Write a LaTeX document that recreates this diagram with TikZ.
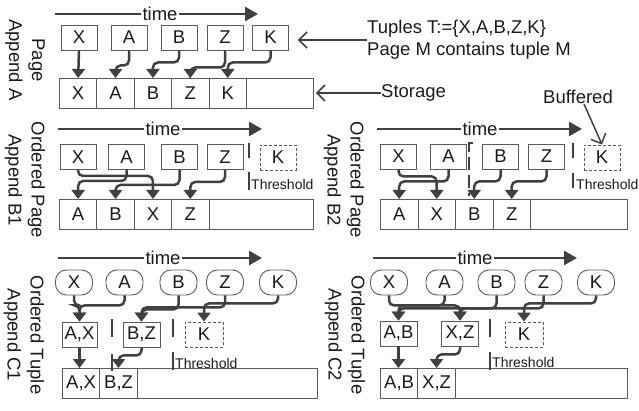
\documentclass[tikz,border=0pt]{standalone}
\usepackage{fontspec}
\setmainfont{Liberation Sans}
\usetikzlibrary{arrows.meta}
\definecolor{ln}{HTML}{404040}
\definecolor{bx}{HTML}{5A5A5A}
\definecolor{tx}{HTML}{1A1A1A}
\newcommand{\bigf}{\fontsize{18.5}{23}\selectfont}
\newcommand{\smallf}{\fontsize{14}{16}\selectfont}
\begin{document}
\begin{tikzpicture}[x=1pt,y=-1pt,
 pbox/.style={draw=bx,line width=0.9pt,minimum width=36pt,minimum height=25pt,inner sep=0pt,font=\bigf,text=tx},
 dbox/.style={pbox,dash pattern=on 3pt off 2pt},
 tup/.style={pbox,rounded corners=11pt,minimum width=37pt},
 cell/.style={draw=bx,line width=0.9pt,minimum width=37.4pt,minimum height=30pt,inner sep=0pt,anchor=north west,font=\bigf,text=tx},
 bar/.style={draw=bx,line width=0.9pt,anchor=north west,inner sep=0pt,minimum height=30pt},
 flow/.style={draw=ln,line width=2.5pt,rounded corners=5pt,-{Triangle[width=13pt,length=9pt]}},
 timeln/.style={draw=ln,line width=2.6pt,-{Triangle[width=14pt,length=13pt]}},
 timelbl/.style={fill=white,inner sep=1.5pt,font=\bigf,text=tx},
 thr/.style={draw=ln,line width=2pt},
 ptr/.style={draw=ln,line width=1.5pt,-{Straight Barb[length=8pt,width=16pt]}},
 lbl/.style={rotate=-90,align=center,font=\bigf,text=tx,inner sep=0pt},
 txt/.style={font=\bigf,text=tx,inner sep=0pt},
 thl/.style={font=\smallf,text=tx,inner sep=0pt,anchor=west},
]
\useasboundingbox (0,0) rectangle (639,411);

% ---------------- Panel A ----------------
\node[lbl] (lA) at (25,60) {Page\\Append A};
\coordinate (tA1) at (55,14); \coordinate (tA2) at (258,14);
\draw[timeln] (tA1) -- (tA2);
\node[timelbl] (tAl) at (160,14) {time};
\node[pbox] (Xa) at (79,37.5) {X};
\node[pbox] (Aa) at (129,37.5) {A};
\node[pbox] (Ba) at (179,37.5) {B};
\node[pbox] (Za) at (225,37.5) {Z};
\node[pbox] (Ka) at (270.5,37.5) {K};
\node[bar,minimum width=254pt] (barA) at (59,78) {};
\node[cell] (caX) at (59,78) {X};
\node[cell] (caA) at (96.4,78) {A};
\node[cell] (caB) at (133.8,78) {B};
\node[cell] (caZ) at (171.2,78) {Z};
\node[cell] (caK) at (208.6,78) {K};
\draw[flow] (Xa.south) -- (caX.north);
\draw[flow] (Aa.south) -- ++(0,15) -| (caA.north);
\draw[flow] (Ba.south) -- ++(0,12) -| (caB.north);
\draw[flow] (Za.south) -- ++(0,17) -| (caZ.north);
\draw[flow] (Ka.south) -- ++(0,12) -| (caK.north);
\node[txt,anchor=west,align=left,font=\fontsize{18.5}{22}\selectfont] (tupl) at (367,40) {Tuples T:=\{X,A,B,Z,K\}\\Page M contains tuple M};
\draw[ptr,shorten >=9pt] (tupl.west) -- (tupl.west -| Ka.east);
\node[txt,anchor=west] (stor) at (381,93) {Storage};
\draw[ptr,shorten >=2pt] (stor.west) -- (stor.west -| barA.east);

% ---------------- Panel B1 ----------------
\node[lbl] (lB1) at (25,180) {Ordered Page\\Append B1};
\coordinate (tB1a) at (58,129); \coordinate (tB1b) at (262,129);
\draw[timeln] (tB1a) -- (tB1b);
\node[timelbl] (tB1l) at (163,129) {time};
\node[pbox] (Xb) at (78,157) {X};
\node[pbox] (Ab) at (126.5,157) {A};
\node[pbox] (Bb) at (179.5,157) {B};
\node[pbox] (Zb) at (225,157) {Z};
\node[dbox] (Kb) at (278,157.5) {K};
\node[bar,minimum width=254pt] (barB1) at (59,199) {};
\node[cell] (cbA) at (59,199) {A};
\node[cell] (cbB) at (96.4,199) {B};
\node[cell] (cbX) at (133.8,199) {X};
\node[cell] (cbZ) at (171.2,199) {Z};
\draw[flow] (Xb.south) -- ++(0,6) -| (cbX.north);
\draw[flow] (Ab.south) -- ++(0,11) -| (cbA.north);
\draw[flow] (Bb.south) -- ++(0,15) -| (cbB.north);
\draw[flow] (Zb.south) -- ++(0,12) -| (cbZ.north);
\draw[thr] (249,143) -- (249,158);
\draw[thr] (249,172) -- (249,190);
\node[thl] (thB1) at (251,184) {Threshold};

% ---------------- Panel B2 ----------------
\node[lbl] (lB2) at (344,180) {Ordered Page\\Append B2};
\coordinate (tB2a) at (377,129); \coordinate (tB2b) at (582,129);
\draw[timeln] (tB2a) -- (tB2b);
\node[timelbl] (tB2l) at (480,129) {time};
\node[pbox] (Xc) at (398.5,156.5) {X};
\node[pbox] (Ac) at (448.5,156.5) {A};
\node[pbox] (Bc) at (500.5,156.5) {B};
\node[pbox] (Zc) at (546.5,156.5) {Z};
\node[dbox] (Kc) at (602,157.5) {K};
\node[bar,minimum width=247pt] (barB2) at (380,199) {};
\node[cell,minimum width=37.5pt] (c2A) at (380,199) {A};
\node[cell,minimum width=37.5pt] (c2X) at (417.5,199) {X};
\node[cell,minimum width=37.5pt] (c2B) at (455,199) {B};
\node[cell,minimum width=37.5pt] (c2Z) at (492.5,199) {Z};
\draw[flow] (Xc.south) -- ++(0,7) -| (c2X.north);
\draw[flow] (Ac.south) -- ++(0,12) -| (c2A.north);
\draw[flow] (Bc.south) -- ++(0,12) -| (c2B.north);
\draw[flow] (Zc.south) -- ++(0,12) -| (c2Z.north);
\draw[thr,dash pattern=on 13pt off 5pt] (473,143) -- (469,143) -- (469,196);
\draw[thr] (573,143) -- (573,158);
\draw[thr] (573,173) -- (573,188);
\node[thl] (thB2) at (576,184) {Threshold};
\node[txt] (buf) at (578,97) {Buffered};
\draw[ptr] ([xshift=6pt]buf.south) -- (Kc.north);

% ---------------- Panel C1 ----------------
\node[lbl] (lC1) at (24,335) {Ordered Tuple\\Append C1};
\coordinate (tC1a) at (58,258); \coordinate (tC1b) at (262,258);
\draw[timeln] (tC1a) -- (tC1b);
\node[timelbl] (tC1l) at (163,258) {time};
\node[tup] (Xd) at (74,282.5) {X};
\node[tup] (Ad) at (124.5,282.5) {A};
\node[tup] (Bd) at (178.5,282.5) {B};
\node[tup] (Zd) at (225,282.5) {Z};
\node[tup] (Kd) at (278,282.5) {K};
\node[pbox,minimum width=35pt] (AXd) at (79.5,334.5) {A,X};
\node[pbox,minimum width=37pt] (BZd) at (141.5,334.5) {B,Z};
\node[dbox,minimum width=38pt] (KKd) at (204,334.5) {K};
\node[bar,minimum width=255pt] (barC1) at (62,368) {};
\node[cell] (cdAX) at (62,368) {A,X};
\node[cell] (cdBZ) at (99.4,368) {B,Z};
\draw[flow] (Xd.south) -- ++(0,10) -| (AXd.north);
\draw[flow] (Ad.south) -- ++(0,10) -| (AXd.north);
\draw[flow] (Bd.south) -- ++(0,14) -| (BZd.north);
\draw[flow] (Zd.south) -- ++(0,12) -| (BZd.north);
\draw[flow] (Kd.south) -- ++(0,8) -| (KKd.north);
\draw[flow] (AXd.south) -- (AXd.south |- cdAX.north);
\draw[flow] (BZd.south) -- ++(0,8) -| (cdBZ.north);
\draw[thr] (112,319) -- (112,337);
\draw[thr] (112,354) -- (112,371);
\draw[thr] (173,319) -- (173,337);
\draw[thr] (173,352) -- (173,370);
\node[thl] (thC1) at (175,363) {Threshold};

% ---------------- Panel C2 ----------------
\node[lbl] (lC2) at (345,335) {Ordered Tuple\\Append C2};
\coordinate (tC2a) at (373,258); \coordinate (tC2b) at (577,258);
\draw[timeln] (tC2a) -- (tC2b);
\node[timelbl] (tC2l) at (475,258) {time};
\node[tup] (Xe) at (389,282.5) {X};
\node[tup] (Ae) at (444.5,282.5) {A};
\node[tup] (Be) at (496.5,282.5) {B};
\node[tup] (Ze) at (543.5,282.5) {Z};
\node[tup] (Ke) at (596,282.5) {K};
\node[pbox,minimum width=37pt] (ABe) at (398.5,333.5) {A,B};
\node[pbox,minimum width=37pt] (XZe) at (460,333.5) {X,Z};
\node[dbox,minimum width=38pt] (KKe) at (524,334.5) {K};
\node[bar,minimum width=247pt] (barC2) at (380,368) {};
\node[cell] (ceAB) at (380,368) {A,B};
\node[cell] (ceXZ) at (417.4,368) {X,Z};
\draw[flow] (Xe.south) -- ++(0,10) -| (XZe.north);
\draw[flow] (Ae.south) -- ++(0,10) -| (ABe.north);
\draw[flow] (Be.south) -- ++(0,13) -| (ABe.north);
\draw[flow] (Ze.south) -- ++(0,13) -| (XZe.north);
\draw[flow] (Ke.south) -- ++(0,8) -| (KKe.north);
\draw[flow] (ABe.south) -- (ABe.south |- ceAB.north);
\draw[flow] (XZe.south) -- ++(0,8) -| (ceXZ.north);
\draw[thr] (490,319) -- (490,337);
\draw[thr] (490,352) -- (490,370);
\node[thl] (thC2) at (492,362) {Threshold};
\end{tikzpicture}
\end{document}
